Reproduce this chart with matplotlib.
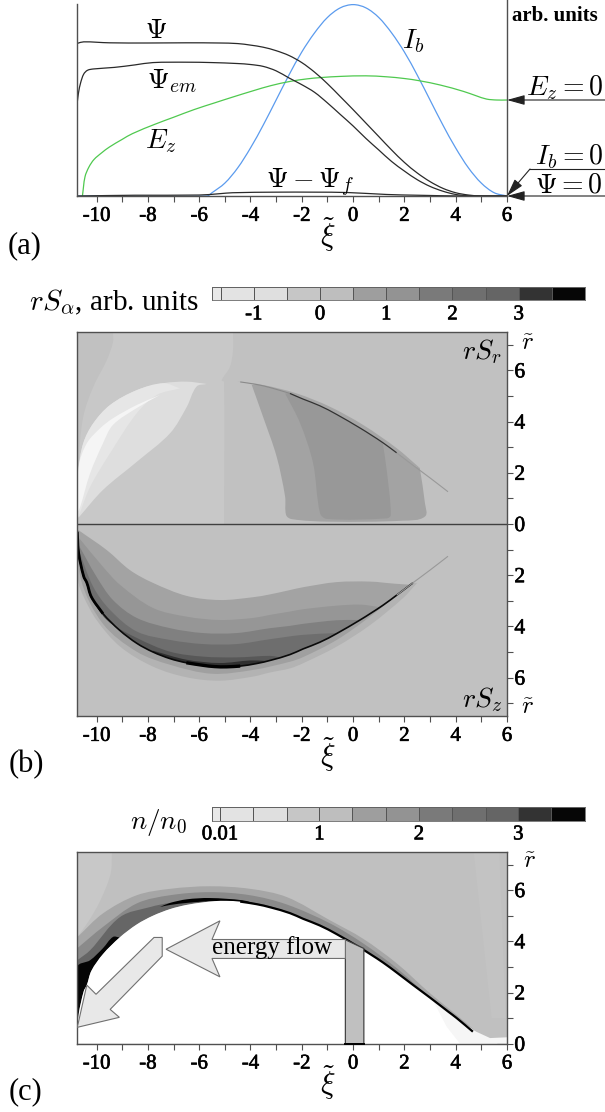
import numpy as np
import matplotlib
matplotlib.use('Agg')
import matplotlib.pyplot as plt
import matplotlib.patheffects as pe
from matplotlib.colors import ListedColormap, BoundaryNorm
from matplotlib.patches import PathPatch
from matplotlib.path import Path

plt.rcParams['font.family'] = ['Liberation Serif', 'DejaVu Serif']
plt.rcParams['mathtext.fontset'] = 'cm'

W, H = 605, 1112
AX = '#505050'

# panel a curves
psi_x = [-10.75, -10.5, -9.5, -8, -6.5, -5.2, -4.5, -4, -3.5, -3, -2.5, -2, -1.5, -1, -0.5, 0, 0.5, 1, 1.5, 2, 2.5, 3, 3.5, 4, 4.5, 5, 6]
psi_y = [0.795, 0.803, 0.798, 0.797, 0.798, 0.797, 0.794, 0.786, 0.775, 0.757, 0.732, 0.695, 0.645, 0.585, 0.518, 0.45, 0.38, 0.31, 0.24, 0.175, 0.12, 0.075, 0.04, 0.017, 0.005, 0, 0]
psi_em_x = [-10.75, -10.7, -10.62, -10.5, -10.35, -10.1, -9.3, -8.5, -7.8, -6.5, -5.5, -4.5, -4, -3.5, -3, -2.5, -2, -1.5, -1, -0.5, 0, 0.5, 1, 1.5, 2, 2.5, 3, 3.5, 4, 4.5, 5, 6]
psi_em_y = [0.49, 0.54, 0.59, 0.635, 0.655, 0.662, 0.67, 0.683, 0.695, 0.697, 0.695, 0.69, 0.685, 0.675, 0.652, 0.615, 0.58, 0.54, 0.485, 0.425, 0.365, 0.30, 0.24, 0.18, 0.13, 0.085, 0.05, 0.025, 0.008, 0.001, 0, 0]
ez_x = [-10.55, -10.45, -10.3, -10.1, -9.8, -9.5, -9, -8.6, -7.7, -7, -6.2, -5.4, -4.7, -3.9, -3.2, -2.45, -1.8, -1.25, -0.5, 0.5, 1.3, 2, 2.6, 3.4, 4.3, 4.8, 5.2, 5.6, 6]
ez_y = [0, 0.1, 0.15, 0.19, 0.225, 0.255, 0.295, 0.325, 0.375, 0.41, 0.45, 0.485, 0.515, 0.548, 0.575, 0.597, 0.61, 0.617, 0.623, 0.626, 0.621, 0.612, 0.6, 0.578, 0.545, 0.522, 0.505, 0.5, 0.5]
ib_x = [-10.75, -5.7, -5.5, -5, -4.5, -4, -3.5, -3, -2.5, -2, -1.5, -1, -0.5, 0, 0.5, 1, 1.5, 2, 2.5, 3, 3.5, 4, 4.5, 5, 5.5, 6]
ib_y = [0, 0, 0.017, 0.067, 0.146, 0.25, 0.37, 0.5, 0.63, 0.75, 0.85, 0.93, 0.98, 0.997, 0.98, 0.93, 0.85, 0.75, 0.63, 0.5, 0.37, 0.25, 0.146, 0.067, 0.017, 0]
diff_x = [-10.75, -8.5, -6, -5.2, -4.7, -3, -1.5, -0.2, 1.3, 2.5, 4.3, 6]
diff_y = [0, 0.004, 0.005, 0.012, 0.017, 0.02, 0.02, 0.018, 0.008, 0.004, 0, 0]

x_major = [-10, -8, -6, -4, -2, 0, 2, 4, 6]
x_minor = [-9, -7, -5, -3, -1, 1, 3, 5]
x_labels = ['-10', '-8', '-6', '-4', '-2', '0', '2', '4', '6']

# colour bars
bar_colors = ['#e8e8e8', '#e3e3e3', '#dfdfdf', '#c6c6c6', '#bebebe', '#9e9e9e', '#939393', '#7a7a7a', '#6f6f6f', '#656565', '#333333', '#060606']
levels_b = [-1.63, -1.5, -1, -0.5, 0, 0.5, 1, 1.5, 2, 2.5, 3, 3.5, 4]
levels_c = [-0.08, 0, 0.33, 0.67, 1, 1.33, 1.67, 2, 2.33, 2.67, 3, 3.33, 3.67]
ticks_b = [-1, 0, 1, 2, 3]
ticks_c = [0, 1, 2, 3]
tick_labels_c = ['0.01', '1', '2', '3']

# boundary of the plasma-free channel
sheath_x = np.array([-10.75, -10.7, -10.5, -10.38, -10.2, -9.75, -9.1, -8.43, -7.8, -7.13, -6.5, -5.85, -5.4, -4.93, -4.4, -3.76, -3.2, -2.46, -1.95, -1.3, -0.64, 0.27, 0.7, 1.17, 1.7, 2.33, 3.0, 3.7, 4.04, 4.67])
sheath_r = np.array([0.3, 1.13, 2.05, 2.29, 2.85, 3.5, 4.15, 4.66, 5.0, 5.26, 5.42, 5.52, 5.57, 5.58, 5.55, 5.45, 5.32, 5.1, 4.88, 4.62, 4.28, 3.75, 3.48, 3.17, 2.78, 2.3, 1.8, 1.26, 1.0, 0.47])

# panel b, r S_r contours
sr_mid_x = [-10.75, -10.7, -10.52, -10.13, -9.6, -9.36, -9.36]
sr_mid_r = [0, 2.37, 4.18, 5.35, 6.4, 7.1, 7.5]
sr_right_x = [-4.68, -4.68, -4.8, -5.12, -5.03, -5.03]
sr_right_r = [7.5, 6.8, 6.14, 5.62, 5.55, 0]
blade_top_x = [-10.75, -10.7, -10.52, -10.13, -9.47, -8.43, -7.4, -6.48, -5.7]
blade_top_r = [0.3, 2.1, 3.15, 3.93, 4.65, 5.23, 5.5, 5.56, 5.47]
blade_low_x = [-5.7, -6.1, -6.48, -7.13, -8.43, -9.75, -10.7]
blade_low_r = [5.47, 5.37, 4.58, 3.55, 2.43, 1.33, 0.25]
blade2_top_x = [-10.75, -10.7, -10.52, -10.13, -9.47, -8.43, -7.4, -6.75]
blade2_top_r = [0.3, 2.1, 3.15, 3.93, 4.65, 5.23, 5.5, 5.3]
blade2_low_x = [-6.75, -7.65, -8.43, -9.47, -10.25, -10.7]
blade2_low_r = [5.3, 5.04, 4.33, 2.77, 1.45, 0.3]
blade3_top_x = [-10.75, -10.7, -10.38, -9.86, -9.36, -8.43, -7.53]
blade3_top_r = [0.45, 2.24, 3.15, 3.74, 4.13, 4.65, 5.04]
blade3_low_x = [-7.53, -8.43, -9.36, -9.75, -10.25, -10.64, -10.75]
blade3_low_r = [5.04, 4.53, 3.87, 3.15, 1.98, 0.66, 0.45]
rim_x = [-4.54, -3.51, -2.2, -0.9, 0.39, 1.7, 2.6]
rim_r = [5.56, 5.43, 5.1, 4.58, 3.87, 2.96, 2.19]
tail_x = [1.7, 2.33, 3.0, 3.7]
tail_r = [2.78, 2.3, 1.8, 1.26]
fan1_x = [-3.95, -3.51, -2.98, -2.65, -2.61, -2.39, -0.9, 1.94, 2.8, 2.8, 2.6]
fan1_r = [5.43, 4.19, 2.63, 1.07, 0.35, 0.19, 0.09, 0.13, 0.29, 0.82, 2.19]
fan2_x = [-2.65, -2.07, -1.56, -1.29, -1.03, 1.31, 1.47, 1.31, 1.15]
fan2_r = [5.1, 3.95, 2.38, 0.43, 0.2, 0.22, 0.35, 2.11, 3.2]

# panel b, r S_z contours, from the axis side outwards
sz1_x = [-10.72, -9.6, -8.7, -7.8, -6.48, -5.19, -3.9, -3.24, -2.46, -1.95, -0.64, 0.66, 1.6, 2.33]
sz1_r = [0.23, 1.02, 1.8, 2.3, 2.81, 2.97, 2.86, 2.75, 2.58, 2.47, 2.27, 2.25, 2.33, 2.38]
sz2_x = [-10.72, -9.75, -9.08, -7.8, -6.48, -5.19, -3.9, -3.24, -2.46, -1.95, -0.64, 0.3, 1.05]
sz2_r = [0.5, 1.67, 2.38, 3.28, 3.62, 3.75, 3.67, 3.55, 3.42, 3.33, 3.19, 3.15, 3.25]
sz3_x = [-10.72, -10, -9.36, -8.43, -7.13, -5.85, -4.54, -3.24, -2.46, -1.95, -0.64, 0.2]
sz3_r = [0.78, 2.06, 2.97, 3.67, 4.07, 4.26, 4.26, 4.07, 3.98, 3.9, 3.76, 3.75]
sz4_x = [-10.72, -10.13, -9.47, -8.43, -7.13, -5.85, -4.54, -3.24, -1.95, -0.64]
sz4_r = [0.95, 2.45, 3.36, 4.2, 4.53, 4.69, 4.69, 4.5, 4.33, 4.26]
sz5_x = [-10.72, -10.25, -9.6, -8.43, -7.13, -5.85, -4.54, -3.24, -2.9]
sz5_r = [1.07, 2.7, 3.75, 4.45, 4.99, 5.18, 5.21, 5.15, 5.2]
sz6_x = [-7.8, -6.5, -5.2, -4, -3.4]
sz6_r = [4.95, 5.3, 5.43, 5.33, 5.35]
halo1_x = [-10.75, -10.72, -10.5, -10, -9.08, -7.8, -6.48, -5.19, -3.9, -3.24, -2.46, -1.95, -0.64, 0.66, 1.94, 2.5]
halo1_r = [0.3, 2.2, 2.84, 3.75, 4.79, 5.57, 5.99, 6.12, 5.96, 5.8, 5.64, 5.44, 4.79, 3.95, 2.9, 2.3]
halo2_x = [-10.75, -10.6, -9.75, -8.43, -7.13, -5.5, -3.9, -2.46, -1.95, -0.64, 0.66, 1.94, 2.5]
halo2_r = [0.3, 2.2, 3.9, 4.99, 5.5, 5.85, 5.7, 5.38, 5.2, 4.53, 3.62, 2.58, 2.15]

# panel c, density contours
nc_left_x = [-10.75, -10.3, -9.85, -9.45, -9.4]
nc_left_r = [4.17, 4.8, 5.6, 6.65, 7.5]
n1_x = [-10.75, -9.75, -8.43, -7.13, -5.58, -4.02, -2.59, -0.9, 0.39, 1.7, 3.0, 4.04, 4.8]
n1_r = [4.16, 5.09, 5.8, 6.05, 6.15, 6.05, 5.73, 4.82, 4.1, 3.14, 1.97, 1.12, 0.47]
n2_x = [-10.75, -9.75, -8.43, -7.13, -5.58, -4.02, -2.59, -0.9, 0.39, 1.7, 3.0, 4.04]
n2_r = [3.73, 4.56, 5.48, 5.8, 5.92, 5.8, 5.44, 4.7, 3.92, 2.95, 1.82, 1.05]
n3_x = [-10.75, -10.25, -9.08, -7.9, -7.13, -5.58, -4.3, -3.2, -2.46]
n3_r = [3.26, 3.65, 4.95, 5.34, 5.5, 5.64, 5.58, 5.36, 5.12]
wedge_x = [-10.75, -10.75, -10.25, -9.75, -9.36, -9.1]
wedge_r = [0.6, 3.0, 3.26, 3.73, 4.17, 4.15]
crest_top_x = [-7.53, -7.13, -6.48, -5.58, -4.3, -3.76]
crest_top_r = [5.34, 5.5, 5.64, 5.69, 5.6, 5.45]
crest_low_x = [-3.76, -4.3, -5.58, -6.48, -7.13, -7.53]
crest_low_r = [5.45, 5.48, 5.56, 5.5, 5.42, 5.34]
lobe_x = [3.11, 3.65, 4.17, 6, 6, 5.34, 4.8, 4.04, 3.7]
lobe_r = [1.7, 0.66, 0, 0, 0.25, 0.22, 0.47, 1.0, 1.26]
streak_x = [4.7, 5.7, 5.95, 5.4]
streak_r = [7.5, 7.5, 1.0, 1.0]
r_major = [0, 2, 4, 6]
r_minor = [1, 3, 5, 7]

# arrows in panel c
bar_x = [-0.3, 0.42]
flow_x = [-0.3, -5.5, -5.19, -7.29, -5.19, -5.5, -0.3]
flow_r = [4.07, 4.07, 4.8, 3.69, 2.61, 3.33, 3.33]
down_x = [-7.76, -7.44, -7.44, -9.47, -9.11, -10.75, -10.38, -10.02]
down_r = [4.15, 4.15, 3.42, 1.34, 1.03, 0.64, 2.29, 1.93]

fig = plt.figure(figsize=(W / 100, H / 100), dpi=100)


def px_axes(x0, y0, x1, y1):
    return fig.add_axes([x0 / W, 1 - y1 / H, (x1 - x0) / W, (y1 - y0) / H])


def curved(parts, close=True, aspect=1.0):
    # Bezier path through the read points, corners only where two parts meet
    verts, codes = [], []
    for k, (x, y) in enumerate(parts):
        p = np.column_stack([x, np.array(y, dtype=float) * aspect])
        verts.append(p[0])
        codes.append(Path.MOVETO if k == 0 else Path.LINETO)
        n = len(p)
        t = np.zeros_like(p)
        for i in range(n):
            d = p[min(i + 1, n - 1)] - p[max(i - 1, 0)]
            t[i] = d / max(np.hypot(*d), 1e-9)
        for i in range(n - 1):
            s = np.hypot(*(p[i + 1] - p[i])) / 3
            verts += [p[i] + t[i] * s, p[i + 1] - t[i + 1] * s, p[i + 1]]
            codes += [Path.CURVE4] * 3
    if close:
        verts.append(verts[0])
        codes.append(Path.CLOSEPOLY)
    v = np.array(verts)
    v[:, 1] /= aspect
    return Path(v, codes)


def shape(ax, parts, color, sign=1, **kw):
    parts = [(x, sign * np.array(r, dtype=float)) for x, r in parts]
    kw.setdefault('lw', 0)
    ax.add_patch(PathPatch(curved(parts), facecolor=color, edgecolor=kw.pop('edgecolor', 'none'), **kw))


def stroke(ax, x, y, color, lw, aspect=1.0, **kw):
    ax.add_patch(PathPatch(curved([(x, y)], close=False, aspect=aspect), fill=False, edgecolor=color, lw=lw, capstyle='butt', **kw))


def band(ax, x, r, color, sign=1):
    # area between a contour and the channel boundary
    x = np.array(x)
    m = (sheath_x <= x[-1]) & (sheath_x >= x[0])
    shape(ax, [(x, r), (sheath_x[m][::-1], sheath_r[m][::-1])], color, sign)


def thicken(labels):
    for t in labels:
        t.set_path_effects([pe.withStroke(linewidth=0.45, foreground='black')])


def style_x(ax):
    ax.set_xlim(-10.75, 6)
    ax.set_xticks(x_major)
    ax.set_xticklabels(x_labels, fontsize=15)
    ax.set_xticks(x_minor, minor=True)
    ax.tick_params(axis='x', which='both', length=4.3, width=0.8, color=AX, pad=3.5)
    thicken(ax.get_xticklabels())
    for s in ax.spines.values():
        s.set_color(AX)
        s.set_linewidth(1.0)


def style_r(ax):
    ax.yaxis.tick_right()
    ax.tick_params(axis='y', which='both', length=4.3, width=0.8, color=AX, pad=1, labelsize=15.5)


def colorbar(y0, y1, levels, ticks, labels):
    ax = px_axes(212, y0, 585, y1)
    cmap = ListedColormap(bar_colors)
    norm = BoundaryNorm(levels, cmap.N)
    vals = (np.array(levels[:-1]) + np.array(levels[1:])) / 2
    ax.pcolormesh(levels, [0, 1], [vals], cmap=cmap, norm=norm, edgecolors='#555555', linewidth=0.5)
    ax.set_yticks([])
    ax.set_xticks(ticks)
    ax.set_xticklabels(labels, fontsize=15)
    ax.tick_params(axis='x', length=0, pad=3.5)
    thicken(ax.get_xticklabels())
    for s in ax.spines.values():
        s.set_color('#666666')
        s.set_linewidth(0.6)


# (a)
ax = px_axes(77.3, 0, 507, 196)
stroke(ax, ib_x, ib_y, '#5b9bee', 0.9, aspect=7.5)
stroke(ax, ez_x, ez_y, '#4fc94f', 0.9, aspect=7.5)
stroke(ax, psi_x, psi_y, '#2a2a2a', 0.9, aspect=7.5)
stroke(ax, psi_em_x, psi_em_y, '#2a2a2a', 0.9, aspect=7.5)
stroke(ax, diff_x, diff_y, '#2a2a2a', 0.9, aspect=7.5)
ax.set_ylim(0, 1.021)
ax.set_yticks([])
style_x(ax)
ax.spines['top'].set_visible(False)
ax.spines['left'].set_bounds(0, 1.0)

# (b)
colorbar(287, 300.5, levels_b, ticks_b, ['-1', '0', '1', '2', '3'])
ax = px_axes(77.3, 332, 507, 716)
ax.set_facecolor('#c1c1c1')
shape(ax, [(sr_mid_x, sr_mid_r), (sr_right_x, sr_right_r)], '#c8c8c8')
shape(ax, [(blade_top_x, blade_top_r), (blade_low_x, blade_low_r)], '#dedede')
shape(ax, [(blade2_top_x, blade2_top_r), (blade2_low_x, blade2_low_r)], '#e6e6e6')
shape(ax, [(blade3_top_x, blade3_top_r), (blade3_low_x, blade3_low_r)], '#f5f5f5')
m = (sheath_x > -4.5) & (sheath_x < 2.7)
shape(ax, [(rim_x, rim_r), (sheath_x[m][::-1], sheath_r[m][::-1])], '#a6a6a6')
m = (sheath_x > -4.0) & (sheath_x < 2.65)
shape(ax, [(fan1_x, fan1_r), (sheath_x[m][::-1], sheath_r[m][::-1])], '#a3a3a3')
m = (sheath_x > -2.6) & (sheath_x < 1.2)
shape(ax, [(fan2_x, fan2_r), (sheath_x[m][::-1], sheath_r[m][::-1])], '#989898')
m = (sheath_x > -4.6) & (sheath_x < -2.3)
stroke(ax, sheath_x[m], sheath_r[m], '#8a8a8a', 0.8)
m = (sheath_x > -2.6) & (sheath_x < 1.8)
stroke(ax, sheath_x[m], sheath_r[m], '#333333', 0.9)
stroke(ax, tail_x, tail_r, '#999999', 0.8)

band(ax, halo1_x, halo1_r, '#b3b3b3', -1)
band(ax, halo2_x, halo2_r, '#a0a0a0', -1)
band(ax, sz1_x, sz1_r, '#a3a3a3', -1)
band(ax, sz2_x, sz2_r, '#969696', -1)
band(ax, sz3_x, sz3_r, '#808080', -1)
band(ax, sz4_x, sz4_r, '#6e6e6e', -1)
band(ax, sz5_x, sz5_r, '#585858', -1)
band(ax, sz6_x, sz6_r, '#303030', -1)
m = sheath_x <= 2.4
stroke(ax, sheath_x[m], -sheath_r[m], '#0a0a0a', 1.2)
m = (sheath_x > -6.6) & (sheath_x < -3.8)
stroke(ax, sheath_x[m], -sheath_r[m], '#000000', 2.4)
m = sheath_x < -9.6
stroke(ax, sheath_x[m], -sheath_r[m], '#000000', 2.0)
stroke(ax, tail_x, [-v for v in tail_r], '#999999', 0.8)
ax.axhline(0, color='#404040', lw=1.0)
ax.set_ylim(-7.5, 7.5)
style_x(ax)
style_r(ax)
ax.set_yticks([-6, -4, -2, 0, 2, 4, 6])
ax.set_yticklabels(['6', '4', '2', '0', '2', '4', '6'])
ax.set_yticks([-7, -5, -3, -1, 1, 3, 5, 7], minor=True)
thicken(ax.get_yticklabels())

# (c)
colorbar(807, 820.5, levels_c, ticks_c, tick_labels_c)
ax = px_axes(77.3, 851.7, 507, 1043.7)
ax.set_facecolor('#c0c0c0')
shape(ax, [(nc_left_x, nc_left_r), ([-9.4, -10.75, -10.75], [7.5, 7.5, 4.17])], '#c8c8c8')
ax.fill(streak_x, streak_r, color='#c3c3c3', lw=0)
band(ax, n1_x, n1_r, '#a6a6a6')
band(ax, n2_x, n2_r, '#8a8a8a')
band(ax, n3_x, n3_r, '#666666')
band(ax, wedge_x, wedge_r, '#050505')
shape(ax, [(crest_top_x, crest_top_r), (crest_low_x, crest_low_r)], '#000000')
# everything below the boundary is empty
shape(ax, [(sheath_x, sheath_r), ([4.67, 5.3, 5.6, -10.75], [0.47, 0.2, 0, 0])], 'white')
ax.fill(lobe_x, lobe_r, color='#f6f6f6', lw=0)
m = sheath_x > -4.5
stroke(ax, sheath_x[m], sheath_r[m], '#000000', 1.6)
ax.fill([bar_x[0], bar_x[1], bar_x[1], bar_x[0]], [0, 0, 3.72, 4.06], facecolor='#c0c0c0', edgecolor='#444444', lw=0.9, zorder=3)
ax.plot(bar_x, [0, 0], color='black', lw=1.4, zorder=4, clip_on=False)
ax.fill(flow_x, flow_r, facecolor='#e8e8e8', edgecolor='#707070', lw=0.8, zorder=3)
ax.fill(down_x, down_r, facecolor='#e8e8e8', edgecolor='#707070', lw=0.8, zorder=3)
ax.set_ylim(0, 7.5)
style_x(ax)
style_r(ax)
ax.set_yticks(r_major)
ax.set_yticks(r_minor, minor=True)
thicken(ax.get_yticklabels())

# texts and arrows placed on the page
page = fig.add_axes([0, 0, 1, 1])
page.set_xlim(0, W)
page.set_ylim(H, 0)
page.axis('off')
page.patch.set_alpha(0)


def txt(x, y, s, size=20, **kw):
    page.text(x, y, s, fontsize=size, ha='center', va='center', **kw)


txt(156, 31, r'$\Psi$')
txt(172, 81, r'$\Psi_{em}$')
txt(161, 141, r'$E_z$')
txt(413, 41, r'$I_b$')
txt(310, 183, r'$\Psi-\Psi_f$')
txt(555, 16, 'arb. units', size=15, fontweight='bold')
txt(565, 88, r'$E_z=0$')
txt(569, 157, r'$I_b=0$')
txt(569, 186, r'$\Psi=0$')
for y in (235, 755, 1083):
    txt(328, y, r'$\tilde{\xi}$', size=22)
txt(25, 246, '(a)', size=22)
txt(26, 765, '(b)', size=22)
txt(25, 1092, '(c)', size=22)
txt(114, 302, r'$rS_\alpha$, arb. units', size=21)
txt(158, 822, r'$n/n_0$', size=19.5)
txt(482, 352, r'$rS_r$', size=20)
txt(482, 700, r'$rS_z$', size=20)
txt(528, 344, r'$\tilde{r}$', size=18)
txt(528, 708, r'$\tilde{r}$', size=18)
txt(530, 862, r'$\tilde{r}$', size=18)
txt(272, 948, 'energy flow', size=18)

arrow = dict(arrowstyle='-|>,head_length=0.9,head_width=0.25', color='#222222', lw=0.8, mutation_scale=12, shrinkA=0, shrinkB=0)
page.annotate('', xy=(507, 100), xytext=(605, 100), arrowprops=arrow)
page.annotate('', xy=(507, 196), xytext=(605, 196), arrowprops=arrow)
page.annotate('', xy=(507, 196), xytext=(530, 169), arrowprops=arrow)
page.plot([530, 605], [169, 169], color='#222222', lw=0.8)

fig.savefig('out.png', dpi=100)
